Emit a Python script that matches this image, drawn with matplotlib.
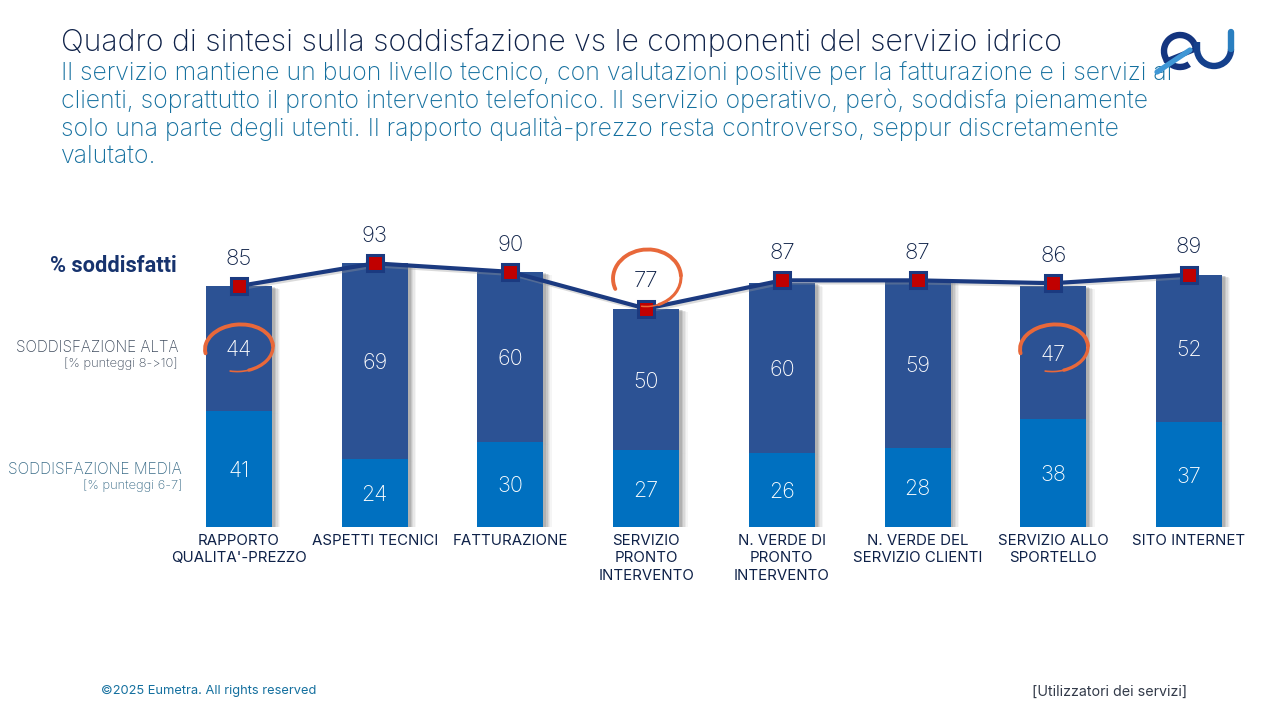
import numpy as np
import matplotlib
matplotlib.use("Agg")
import matplotlib.pyplot as plt
import matplotlib.patheffects as pe
from matplotlib.patches import Arc

categories = ["RAPPORTO\nQUALITA'-PREZZO", "ASPETTI TECNICI", "FATTURAZIONE",
              "SERVIZIO\nPRONTO\nINTERVENTO", "N. VERDE DI\nPRONTO\nINTERVENTO",
              "N. VERDE DEL\nSERVIZIO CLIENTI", "SERVIZIO ALLO\nSPORTELLO", "SITO INTERNET"]
media = [41, 24, 30, 27, 26, 28, 38, 37]
alta = [44, 69, 60, 50, 60, 59, 47, 52]
soddisfatti = [85, 93, 90, 77, 87, 87, 86, 89]

title = "Quadro di sintesi sulla soddisfazione vs le componenti del servizio idrico"
subtitle = ["Il servizio mantiene un buon livello tecnico, con valutazioni positive per la fatturazione e i servizi ai",
            "clienti, soprattutto il pronto intervento telefonico. Il servizio operativo, però, soddisfa pienamente",
            "solo una parte degli utenti. Il rapporto qualità-prezzo resta controverso, seppur discretamente",
            "valutato."]

FONT = "Inter"
NAVY = "#2c5294"; BLUE = "#0070c0"; LINE = "#1b3a80"; RED = "#c00000"; ORANGE = "#e8683a"
TXT = "#0e2148"; TEAL = "#15709f"; GREY = "#3f4c5e"; GREY2 = "#3a6c88"
W, H = 1280, 720
plt.rcParams["font.family"] = [FONT, "DejaVu Sans"]

fig = plt.figure(figsize=(W / 100, H / 100), dpi=100, facecolor="white")

# plot area: baseline at y=527 px, category pitch 135.7 px, 2.835 px per unit
left, right, bottom, top = 171.2, 1256.8, 527, 215
ax = fig.add_axes([left / W, 1 - bottom / H, (right - left) / W, (bottom - top) / H])
ax.set_xlim(-0.5, 7.5)
ax.set_ylim(0, (bottom - top) / 2.835)
ax.axis("off")

x = np.arange(len(categories))
# soft shadow: stacked translucent copies with growing offset
shadow = [pe.SimplePatchShadow(offset=(d, -d * 0.4), shadow_rgbFace="#555555", alpha=a)
          for d, a in [(6, 0.06), (5, 0.08), (4, 0.10), (3, 0.14), (2, 0.18)]] + [pe.Normal()]
ax.bar(x, media, width=0.487, color=BLUE, path_effects=shadow, zorder=2)
ax.bar(x, alta, bottom=media, width=0.487, color=NAVY, path_effects=shadow, zorder=2)
# repaint so that the upper shadow does not fall on the lower segment
ax.bar(x, media, width=0.487, color=BLUE, zorder=2.5)

ax.plot(x, soddisfatti, color=LINE, lw=3.0, zorder=3, solid_capstyle="round",
        path_effects=[pe.SimpleLineShadow(offset=(1, -1.5), shadow_color="#999999", alpha=0.35), pe.Normal()])
ax.plot(x, soddisfatti, ls="none", marker="s", ms=12, mfc=RED, mec=LINE, mew=2.2, zorder=4)

for i in x:
    ax.text(i, media[i] / 2 - 0.7, str(media[i]), color="white", fontsize=15.5, ha="center", va="center", zorder=5, fontweight="light")
    ax.text(i, media[i] + alta[i] / 2 - 0.7, str(alta[i]), color="white", fontsize=15.5, ha="center", va="center", zorder=5, fontweight="light")
    ax.text(i, soddisfatti[i] + 9.6, str(soddisfatti[i]), color=TXT, fontsize=16, ha="center", va="center", zorder=5, fontweight="light")
    ax.text(i, -2.3, categories[i], color=TXT, fontsize=10.8, ha="center", va="top", linespacing=1.36, zorder=5)

# overlay in pixel coordinates
ov = fig.add_axes([0, 0, 1, 1], facecolor="none")
ov.set_xlim(0, W); ov.set_ylim(H, 0); ov.axis("off")

ov.text(61, 42, title, color=TXT, fontsize=21.8, va="center", ha="left", fontweight="light")
for i, s in enumerate(subtitle):
    ov.text(61, 73 + i * 27.8, s, color=TEAL, fontsize=17.9, va="center", ha="left", fontweight="light")

ov.text(177, 266, "% soddisfatti", color="#17336e", fontsize=15.7, fontweight="bold",
        family=["Roboto", "DejaVu Sans"], ha="right", va="center")
ov.text(178, 348, "SODDISFAZIONE ALTA", color=GREY, fontsize=10.95, ha="right", va="center", fontweight="light")
ov.text(178, 364, "[% punteggi 8->10]", color=GREY, fontsize=9.3, ha="right", va="center", fontweight="light")
ov.text(182, 470, "SODDISFAZIONE MEDIA", color=GREY2, fontsize=11.1, ha="right", va="center", fontweight="light")
ov.text(182, 486, "[% punteggi 6-7]", color=GREY2, fontsize=9.3, ha="right", va="center", fontweight="light")
ov.text(101, 691, "©2025 Eumetra. All rights reserved", color=TEAL, fontsize=9.25, ha="left", va="center")
ov.text(1187, 692, "[Utilizzatori dei servizi]", color="#333b4a", fontsize=10.3, ha="right", va="center")

# hand-drawn orange rings (y axis is inverted, so angles run clockwise on screen)
def ring(cx, cy, w, h, t1, t2, lw):
    ov.add_patch(Arc((cx, cy), w, h, angle=-4, theta1=t1, theta2=t2, color=ORANGE, lw=lw, zorder=6, capstyle="round"))

for cx, cy in [(239, 348), (1054, 348)]:
    ring(cx, cy, 68, 47, 175, 360, 2.8)
    ring(cx, cy, 68, 47, 0, 70, 2.4)
    ring(cx, cy, 68, 47, 70, 115, 1.2)
ring(647, 278, 68, 57, 165, 360, 2.8)
ring(647, 278, 68, 57, 0, 70, 2.2)
ring(647, 278, 68, 57, 70, 105, 1.1)

# logo
DARK = "#14357f"
ov.add_patch(Arc((1180, 51), 32, 32, theta1=55, theta2=360, color=DARK, lw=4.6, zorder=7))
ov.plot([1196, 1166], [49, 61], color=DARK, lw=3.6, zorder=7, solid_capstyle="round")
ov.add_patch(Arc((1214, 49), 34, 34, theta1=0, theta2=180, color="#14408c", lw=4.6, zorder=7))
ov.plot([1197, 1197], [49, 42], color="#14408c", lw=4.6, zorder=7, solid_capstyle="butt")
ov.plot([1231, 1231], [49, 32], color="#2a7fc0", lw=4.6, zorder=7, solid_capstyle="round")
ov.plot([1157, 1190], [72, 50], color="#3f97d6", lw=3.8, zorder=8, solid_capstyle="round")

fig.savefig("out.png", dpi=100, facecolor="white")
